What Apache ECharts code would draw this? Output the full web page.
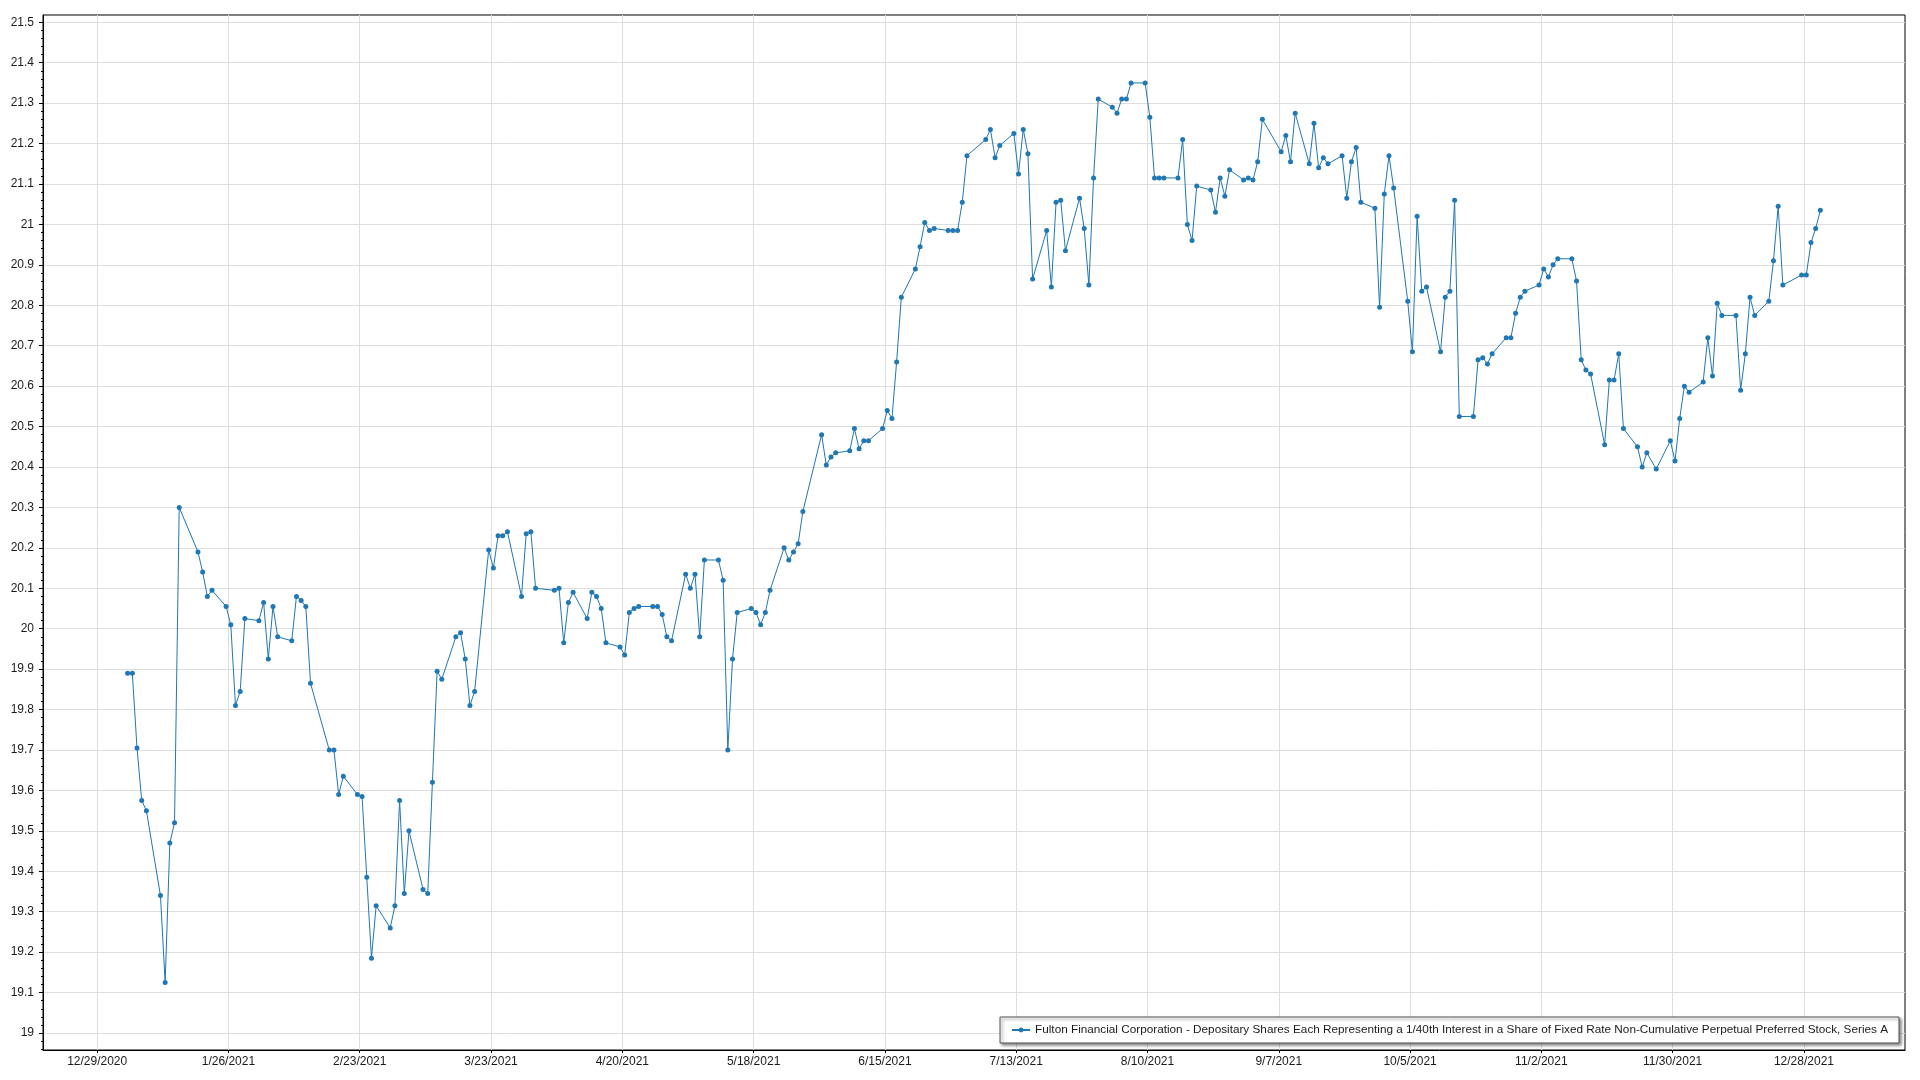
<!DOCTYPE html>
<html><head><meta charset="utf-8">
<script src="https://cdn.jsdelivr.net/npm/echarts@6/dist/echarts.min.js"></script>
<style>html,body{margin:0;padding:0;background:#fff}#c{width:1920px;height:1080px}</style>
</head><body><div id="c"></div>
<script>
const seriesName = 'Fulton Financial Corporation - Depositary Shares Each Representing a 1/40th Interest in a Share of Fixed Rate Non-Cumulative Perpetual Preferred Stock, Series A';

const dates = [
'2021-01-04','2021-01-05','2021-01-06','2021-01-07','2021-01-08','2021-01-11','2021-01-12','2021-01-13','2021-01-14','2021-01-15',
'2021-01-19','2021-01-20','2021-01-21','2021-01-22','2021-01-25','2021-01-26','2021-01-27','2021-01-28','2021-01-29',
'2021-02-01','2021-02-02','2021-02-03','2021-02-04','2021-02-05','2021-02-08','2021-02-09','2021-02-10','2021-02-11','2021-02-12',
'2021-02-16','2021-02-17','2021-02-18','2021-02-19','2021-02-22','2021-02-23','2021-02-24','2021-02-25','2021-02-26',
'2021-03-01','2021-03-02','2021-03-03','2021-03-04','2021-03-05','2021-03-08','2021-03-09','2021-03-10','2021-03-11','2021-03-12',
'2021-03-15','2021-03-16','2021-03-17','2021-03-18','2021-03-19','2021-03-22','2021-03-23','2021-03-24','2021-03-25','2021-03-26',
'2021-03-29','2021-03-30','2021-03-31','2021-04-01','2021-04-05','2021-04-06','2021-04-07','2021-04-08','2021-04-09',
'2021-04-12','2021-04-13','2021-04-14','2021-04-15','2021-04-16','2021-04-19','2021-04-20','2021-04-21','2021-04-22','2021-04-23',
'2021-04-26','2021-04-27','2021-04-28','2021-04-29','2021-04-30','2021-05-03','2021-05-04','2021-05-05','2021-05-06','2021-05-07',
'2021-05-10','2021-05-11','2021-05-12','2021-05-13','2021-05-14','2021-05-17','2021-05-18','2021-05-19','2021-05-20','2021-05-21',
'2021-05-24','2021-05-25','2021-05-26','2021-05-27','2021-05-28','2021-06-01','2021-06-02','2021-06-03','2021-06-04',
'2021-06-07','2021-06-08','2021-06-09','2021-06-10','2021-06-11','2021-06-14','2021-06-15','2021-06-16','2021-06-17','2021-06-18',
'2021-06-21','2021-06-22','2021-06-23','2021-06-24','2021-06-25','2021-06-28','2021-06-29','2021-06-30','2021-07-01','2021-07-02',
'2021-07-06','2021-07-07','2021-07-08','2021-07-09','2021-07-12','2021-07-13','2021-07-14','2021-07-15','2021-07-16',
'2021-07-19','2021-07-20','2021-07-21','2021-07-22','2021-07-23','2021-07-26','2021-07-27','2021-07-28','2021-07-29','2021-07-30',
'2021-08-02','2021-08-03','2021-08-04','2021-08-05','2021-08-06','2021-08-09','2021-08-10','2021-08-11','2021-08-12','2021-08-13',
'2021-08-16','2021-08-17','2021-08-18','2021-08-19','2021-08-20','2021-08-23','2021-08-24','2021-08-25','2021-08-26','2021-08-27',
'2021-08-30','2021-08-31','2021-09-01','2021-09-02','2021-09-03','2021-09-07','2021-09-08','2021-09-09','2021-09-10',
'2021-09-13','2021-09-14','2021-09-15','2021-09-16','2021-09-17','2021-09-20','2021-09-21','2021-09-22','2021-09-23','2021-09-24',
'2021-09-27','2021-09-28','2021-09-29','2021-09-30','2021-10-01','2021-10-04','2021-10-05','2021-10-06','2021-10-07','2021-10-08',
'2021-10-11','2021-10-12','2021-10-13','2021-10-14','2021-10-15','2021-10-18','2021-10-19','2021-10-20','2021-10-21','2021-10-22',
'2021-10-25','2021-10-26','2021-10-27','2021-10-28','2021-10-29','2021-11-01','2021-11-02','2021-11-03','2021-11-04','2021-11-05',
'2021-11-08','2021-11-09','2021-11-10','2021-11-11','2021-11-12','2021-11-15','2021-11-16','2021-11-17','2021-11-18','2021-11-19',
'2021-11-22','2021-11-23','2021-11-24','2021-11-26','2021-11-29','2021-11-30','2021-12-01','2021-12-02','2021-12-03',
'2021-12-06','2021-12-07','2021-12-08','2021-12-09','2021-12-10','2021-12-13','2021-12-14','2021-12-15','2021-12-16','2021-12-17',
'2021-12-20','2021-12-21','2021-12-22','2021-12-23','2021-12-27','2021-12-28','2021-12-29','2021-12-30','2021-12-31'
];

const prices = [
19.89,19.89,19.705,19.575,19.55,19.34,19.125,19.47,19.52,20.30,
20.19,20.14,20.08,20.095,20.055,20.01,19.81,19.845,20.025,
20.02,20.065,19.925,20.055,19.98,19.97,20.08,20.07,20.055,19.865,
19.70,19.70,19.59,19.635,19.59,19.585,19.385,19.185,19.315,
19.26,19.315,19.575,19.345,19.50,19.355,19.345,19.62,19.895,19.875,
19.98,19.99,19.925,19.81,19.845,20.195,20.15,20.23,20.23,20.24,
20.08,20.235,20.24,20.10,20.095,20.10,19.965,20.065,20.09,
20.025,20.09,20.08,20.05,19.965,19.955,19.935,20.04,20.05,20.055,
20.055,20.055,20.035,19.98,19.97,20.135,20.10,20.135,19.98,20.17,
20.17,20.12,19.70,19.925,20.04,20.05,20.04,20.01,20.04,20.095,
20.20,20.17,20.19,20.21,20.29,20.48,20.405,20.425,20.435,
20.44,20.495,20.445,20.465,20.465,20.495,20.54,20.52,20.66,20.82,
20.89,20.945,21.005,20.985,20.99,20.985,20.985,20.985,21.055,21.17,
21.21,21.235,21.165,21.195,21.225,21.125,21.235,21.175,20.865,
20.985,20.845,21.055,21.06,20.935,21.065,20.99,20.85,21.115,21.31,
21.29,21.275,21.31,21.31,21.35,21.35,21.265,21.115,21.115,21.115,
21.115,21.21,21.00,20.96,21.095,21.085,21.03,21.115,21.07,21.135,
21.11,21.115,21.11,21.155,21.26,21.18,21.22,21.155,21.275,
21.15,21.25,21.14,21.165,21.15,21.17,21.065,21.155,21.19,21.055,
21.04,20.795,21.075,21.17,21.09,20.81,20.685,21.02,20.835,20.845,
20.685,20.82,20.835,21.06,20.525,20.525,20.665,20.67,20.655,20.68,
20.72,20.72,20.78,20.82,20.835,20.85,20.89,20.87,20.90,20.915,
20.915,20.86,20.665,20.64,20.63,20.455,20.615,20.615,20.68,20.495,
20.45,20.40,20.435,20.395,20.465,20.415,20.52,20.60,20.585,
20.61,20.72,20.625,20.805,20.775,20.775,20.59,20.68,20.82,20.775,
20.81,20.91,21.045,20.85,20.875,20.875,20.955,20.99,21.035
];

const xTickDates = ['2020-12-29','2021-01-26','2021-02-23','2021-03-23','2021-04-20','2021-05-18','2021-06-15',
  '2021-07-13','2021-08-10','2021-09-07','2021-10-05','2021-11-02','2021-11-30','2021-12-28'];
const yTickValues = [19,19.1,19.2,19.3,19.4,19.5,19.6,19.7,19.8,19.9,20,20.1,20.2,20.3,20.4,20.5,20.6,20.7,20.8,20.9,21,21.1,21.2,21.3,21.4,21.5];

const DAY = 86400000;
function ts(s){const p=s.split('-');return Date.UTC(+p[0],+p[1]-1,+p[2]);}
const points = dates.map((d,i)=>[ts(d), prices[i]]);
const xTicks = xTickDates.map(d => ts(d) - 0.5*DAY);
const xMin = ts(dates[0]) - 18.05*DAY;
const xMax = ts(dates[dates.length-1]) + 18.05*DAY;
const yMin = 18.958, yMax = 21.518;
const yMinor = [];
for (let k = 0; k <= 130; k++) { const v = Math.round((18.96 + k*0.02)*100)/100; if (v <= yMax) yMinor.push(v); }

const FONT = '"Liberation Sans", Arial, sans-serif';
const chart = echarts.init(document.getElementById('c'), null, {renderer:'canvas'});
chart.setOption({
  animation: false,
  backgroundColor: '#fff',
  textStyle: {fontFamily: FONT},
  grid: {left: 43, top: 15, right: 15, bottom: 30, show: true, borderColor: '#000', borderWidth: 1},
  xAxis: {
    type: 'value', min: xMin, max: xMax,
    axisLine: {show: true, onZero: false, lineStyle: {color: '#000', width: 1}},
    axisTick: {show: true, customValues: xTicks, length: 3, lineStyle: {color: '#000'}},
    axisLabel: {customValues: xTicks, margin: 6, color: '#1a1a1a', fontSize: 12, fontFamily: FONT,
      formatter: v => { const d = new Date(v + 0.5*DAY); return (d.getUTCMonth()+1) + '/' + d.getUTCDate() + '/' + d.getUTCFullYear(); }},
    splitLine: {show: true, lineStyle: {color: '#dedede', width: 1}}
  },
  yAxis: [{
    type: 'value', min: yMin, max: yMax,
    axisLine: {show: true, lineStyle: {color: '#000', width: 1}},
    axisTick: {show: true, customValues: yTickValues, length: 4, lineStyle: {color: '#000'}},
    axisLabel: {customValues: yTickValues, margin: 9, color: '#1a1a1a', fontSize: 12, fontFamily: FONT,
      formatter: v => String(Number(v.toFixed(1)))},
    splitLine: {show: true, lineStyle: {color: '#dedede', width: 1}}
  }, {
    type: 'value', min: yMin, max: yMax, position: 'left',
    axisLine: {show: false},
    axisTick: {show: true, customValues: yMinor, length: 2, lineStyle: {color: '#000'}},
    axisLabel: {show: false},
    splitLine: {show: false}
  }],
  legend: {
    right: 21, bottom: 37,
    backgroundColor: '#fff', borderColor: '#555', borderWidth: 1,
    padding: [7, 11, 7, 11],
    itemWidth: 18, itemHeight: 6,
    shadowColor: 'rgba(0,0,0,0.45)', shadowBlur: 3, shadowOffsetX: 2, shadowOffsetY: 2,
    textStyle: {fontSize: 11.75, color: '#1a1a1a', fontFamily: FONT},
    data: [seriesName]
  },
  series: [{
    name: seriesName, type: 'line', xAxisIndex: 0, yAxisIndex: 0,
    data: points, showSymbol: true, showAllSymbol: true,
    symbol: 'circle', symbolSize: 5,
    color: '#1f77b4',
    lineStyle: {width: 1, color: '#1f77b4'},
    itemStyle: {color: '#1f77b4'},
    emphasis: {disabled: true}
  }]
});
</script></body></html>
